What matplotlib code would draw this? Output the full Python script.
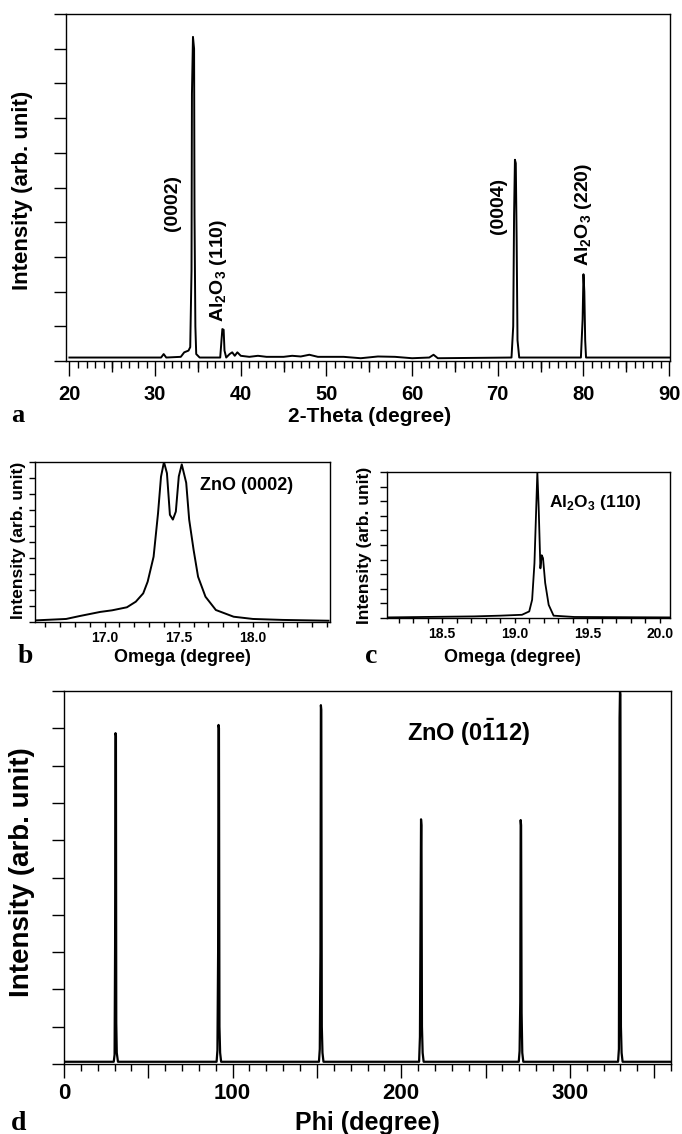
import matplotlib
matplotlib.use('Agg')
import matplotlib.pyplot as plt
from matplotlib.ticker import MultipleLocator, FuncFormatter

plt.rcParams['font.family'] = ['Liberation Sans', 'DejaVu Sans']
plt.rcParams['font.weight'] = 'bold'
plt.rcParams['mathtext.fontset'] = 'dejavusans'

# ---------------- data ----------------
# (a) 2-theta scan
theta_a = [20, 30.7, 31.0, 31.3, 33.0, 33.4, 33.9, 34.1, 34.25, 34.3, 34.42, 34.55,
           34.6, 34.7, 34.8, 35.2, 37.6, 37.75, 37.85, 38.0, 38.1, 38.3, 38.7, 39.0,
           39.3, 39.6, 40, 41, 42, 43, 45, 46, 47, 48, 49, 52, 54, 56, 58, 60, 62,
           62.5, 63, 71.6, 71.8, 71.9, 72.0, 72.1, 72.2, 72.3, 72.5, 79.7, 79.9,
           80.0, 80.1, 80.2, 80.3, 90]
int_a = [0.1, 0.1, 0.2, 0.1, 0.12, 0.25, 0.3, 0.4, 2.6, 7.7, 9.34, 9.0,
         4.2, 1.0, 0.2, 0.1, 0.1, 0.6, 0.92, 0.9, 0.3, 0.1, 0.2, 0.25,
         0.15, 0.25, 0.15, 0.12, 0.15, 0.12, 0.12, 0.15, 0.13, 0.18, 0.12, 0.12, 0.08, 0.13, 0.12, 0.08, 0.1,
         0.18, 0.08, 0.1, 1.0, 4.2, 5.8, 5.7, 3.5, 0.6, 0.1, 0.1, 1.2,
         2.5, 2.0, 0.6, 0.1, 0.1]
labels_a = ['(0002)', r'Al$_\mathregular{2}$O$_\mathregular{3}$ (110)', '(0004)',
            r'Al$_\mathregular{2}$O$_\mathregular{3}$ (220)']
label_x_a = [32.0, 37.4, 70.1, 80.0]
label_y_a = [3.74, 1.12, 3.65, 2.73]

# (b) omega scan ZnO (0002)
omega_b = [16.53, 16.74, 16.83, 16.97, 17.05, 17.15, 17.21, 17.26, 17.29, 17.33, 17.36,
           17.38, 17.40, 17.42, 17.44, 17.46, 17.48, 17.50, 17.52, 17.55, 17.57, 17.60,
           17.63, 17.68, 17.75, 17.87, 18.00, 18.20, 18.51]
int_b = [0.1, 0.19, 0.37, 0.63, 0.73, 0.92, 1.27, 1.79, 2.52, 4.08, 6.8,
         9.08, 10.0, 9.3, 6.7, 6.4, 6.9, 9.1, 9.85, 8.7, 6.4, 4.5,
         2.83, 1.58, 0.75, 0.33, 0.19, 0.13, 0.08]

# (c) omega scan Al2O3 (110)
omega_c = [18.12, 18.37, 18.72, 18.90, 19.05, 19.10, 19.12, 19.136, 19.147, 19.156,
           19.165, 19.177, 19.186, 19.195, 19.21, 19.234, 19.268, 19.41, 20.07]
int_c = [0.04, 0.07, 0.11, 0.16, 0.22, 0.45, 1.25, 3.75, 7.16, 10.0,
         7.6, 3.4, 4.3, 4.1, 2.4, 0.9, 0.16, 0.07, 0.04]

# (d) phi scan ZnO (0-112)
phi_d = [0, 29.5, 30.0, 30.3, 30.55, 30.8, 31.0, 31.3, 32.0,
         90.5, 91.0, 91.4, 91.65, 91.9, 92.2, 92.6, 93.2,
         151.2, 151.7, 152.1, 152.35, 152.6, 152.9, 153.3, 153.9,
         210.6, 211.1, 211.5, 211.75, 212.0, 212.3, 212.7, 213.3,
         269.7, 270.2, 270.6, 270.85, 271.1, 271.4, 271.8, 272.4,
         328.6, 329.1, 329.5, 329.75, 330.0, 330.3, 330.7, 331.3, 360]
int_d = [0.06, 0.06, 0.25, 3.15, 8.87, 8.8, 1.1, 0.3, 0.06,
         0.06, 0.37, 3.0, 9.09, 9.0, 1.0, 0.3, 0.06,
         0.06, 0.4, 3.0, 9.62, 9.5, 1.0, 0.3, 0.06,
         0.06, 0.73, 4.3, 6.56, 6.4, 1.0, 0.3, 0.06,
         0.06, 0.35, 1.67, 6.54, 6.4, 1.37, 0.3, 0.06,
         0.06, 0.4, 9.28, 10.0, 9.9, 1.0, 0.3, 0.06, 0.06]

# ---------------- figure ----------------
W, H = 682, 1134
fig = plt.figure(figsize=(W / 100, H / 100), dpi=100)
PT = 0.72  # points per pixel at 100 dpi


def rect(l, t, r, b):
    return [l / W, 1 - b / H, (r - l) / W, (b - t) / H]


def ftext(x, y, s, **kw):
    fig.text(x / W, 1 - y / H, s, **kw)


serif = ['Liberation Serif', 'DejaVu Serif']


def style(ax, ylen, xmaj, xmin, xlen, xminlen, lsize, pad):
    for sp in ax.spines.values():
        sp.set_linewidth(1.0)
    ax.set_ylim(0, 10)
    ax.set_yticks(range(0, 11))
    ax.set_yticklabels([])
    ax.xaxis.set_major_locator(MultipleLocator(xmaj))
    ax.xaxis.set_minor_locator(MultipleLocator(xmin))
    ax.tick_params(axis='y', direction='out', length=ylen * PT, width=1)
    ax.tick_params(axis='x', which='major', direction='out', length=xlen * PT, width=1,
                   labelsize=lsize, pad=pad * PT)
    ax.tick_params(axis='x', which='minor', direction='out', length=xminlen * PT, width=1)


# (a)
ax_a = fig.add_axes(rect(66, 14, 670, 361))
ax_a.plot(theta_a, int_a, color='k', lw=1.4)
ax_a.set_xlim(19.6, 90.1)
style(ax_a, 12, 10, 1, 15, 7, 14.5, 9)
sec = ax_a.secondary_xaxis('bottom')
sec.set_xticks([25, 35, 45, 55, 65, 75, 85])
sec.set_xticklabels([])
sec.tick_params(direction='out', length=11 * PT, width=1)
sec.spines['bottom'].set_visible(False)
for s, x, y in zip(labels_a, label_x_a, label_y_a):
    ax_a.text(x, y, s, rotation=90, ha='center', va='bottom', fontsize=14, fontweight='bold')
ftext(23, 190, 'Intensity (arb. unit)', rotation=90, ha='center', va='center', fontsize=16)
ftext(370, 416, '2-Theta (degree)', ha='center', va='center', fontsize=15)
ftext(18, 422, 'a', ha='center', va='baseline', fontsize=19, family=serif, fontweight='bold')

# (b)
ax_b = fig.add_axes(rect(35, 462, 330, 622))
ax_b.plot(omega_b, int_b, color='k', lw=1.4)
ax_b.set_xlim(16.53, 18.52)
style(ax_b, 6, 0.5, 0.1, 4.5, 4.5, 10, 4)
ax_b.xaxis.set_major_formatter(FuncFormatter(lambda v, p: f'{v:.1f}' if 16.9 < v < 18.1 else ''))
ftext(247, 485, 'ZnO (0002)', ha='center', va='center', fontsize=13)
ftext(19, 540, 'Intensity (arb. unit)', rotation=90, ha='center', va='center', fontsize=12.5)
ftext(182, 658, 'Omega (degree)', ha='center', va='center', fontsize=13)
ftext(25, 663, 'b', ha='center', va='baseline', fontsize=20, family=serif, fontweight='bold')

# (c)
ax_c = fig.add_axes(rect(387, 472, 670, 618))
ax_c.plot(omega_c, int_c, color='k', lw=1.3)
ax_c.set_xlim(18.12, 20.07)
style(ax_c, 7, 0.5, 0.1, 5, 5, 10, 4)
ax_c.xaxis.set_major_formatter(FuncFormatter(lambda v, p: f'{v:.1f}'))
ftext(595, 502, r'Al$_\mathregular{2}$O$_\mathregular{3}$ (110)', ha='center', va='center', fontsize=12.5)
ftext(364, 545, 'Intensity (arb. unit)', rotation=90, ha='center', va='center', fontsize=12.5)
ftext(512, 658, 'Omega (degree)', ha='center', va='center', fontsize=13)
ftext(371, 663, 'c', ha='center', va='baseline', fontsize=20, family=serif, fontweight='bold')

# (d)
ax_d = fig.add_axes(rect(64, 691, 671, 1064))
ax_d.plot(phi_d, int_d, color='k', lw=1.6)
ax_d.set_xlim(0, 360)
style(ax_d, 12, 50, 10, 14, 7, 16, 5)
ax_d.xaxis.set_major_formatter(FuncFormatter(lambda v, p: f'{int(round(v))}' if round(v) % 100 == 0 else ''))
ftext(468, 732, r'ZnO (0$\bar{\mathregular{1}}$12)', ha='center', va='center', fontsize=17)
ftext(22, 872, 'Intensity (arb. unit)', rotation=90, ha='center', va='center', fontsize=20)
ftext(367, 1130, 'Phi (degree)', ha='center', va='baseline', fontsize=18)
ftext(19, 1130, 'd', ha='center', va='baseline', fontsize=20, family=serif, fontweight='bold')

fig.savefig('out.png', dpi=100)
